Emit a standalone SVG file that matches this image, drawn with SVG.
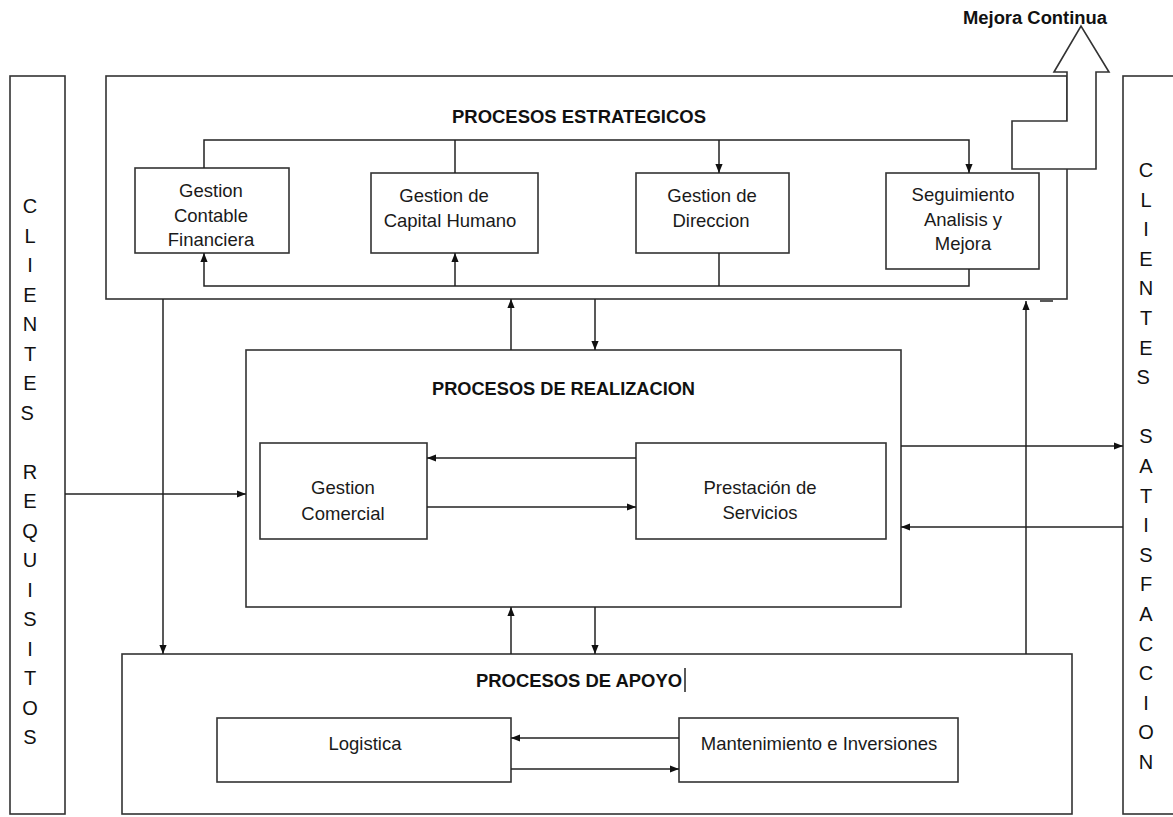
<svg xmlns="http://www.w3.org/2000/svg" width="1173" height="817" viewBox="0 0 1173 817">
  <defs>
    <marker id="ah" viewBox="0 0 10 8" refX="10" refY="4" markerWidth="9" markerHeight="8" markerUnits="userSpaceOnUse" orient="auto">
      <path d="M0,0 L10,4 L0,8 z" fill="#111"/>
    </marker>
  </defs>
  <style>
    .box{fill:none;stroke:#333;stroke-width:1.6}
    .wbox{fill:#fff;stroke:#333;stroke-width:1.6}
    .ln{fill:none;stroke:#222;stroke-width:1.5}
    .arr{fill:none;stroke:#222;stroke-width:1.5;marker-end:url(#ah)}
    .t{font-family:"Liberation Sans",Arial,sans-serif;font-size:18.5px;fill:#1a1a1a;text-anchor:middle}
    .h{font-family:"Liberation Sans",Arial,sans-serif;font-size:18px;font-weight:bold;fill:#111;text-anchor:middle}
    .col{font-family:"Liberation Sans",Arial,sans-serif;font-size:20px;fill:#111;text-anchor:middle}
  </style>
  <rect width="1173" height="817" fill="#fff"/>

  <!-- side columns -->
  <g id="clientes-requisitos">
    <rect class="box" x="10" y="76" width="55" height="738"/>
    <text class="col">
      <tspan x="30" y="213">C</tspan><tspan x="30" y="242.5">L</tspan><tspan x="30" y="272">I</tspan><tspan x="30" y="301.5">E</tspan><tspan x="30" y="331">N</tspan><tspan x="30" y="360.5">T</tspan><tspan x="30" y="390">E</tspan><tspan x="30" y="419.5">S</tspan>
      <tspan x="30" y="478.5">R</tspan><tspan x="30" y="508">E</tspan><tspan x="30" y="537.5">Q</tspan><tspan x="30" y="567">U</tspan><tspan x="30" y="596.5">I</tspan><tspan x="30" y="626">S</tspan><tspan x="30" y="655.5">I</tspan><tspan x="30" y="685">T</tspan><tspan x="30" y="714.5">O</tspan><tspan x="30" y="744">S</tspan>
    </text>
  </g>
  <g id="clientes-satisfaccion">
    <rect class="box" x="1123" y="76" width="70" height="738"/>
    <text class="col">
      <tspan x="1146" y="177">C</tspan><tspan x="1146" y="206.6">L</tspan><tspan x="1146" y="236.2">I</tspan><tspan x="1146" y="265.8">E</tspan><tspan x="1146" y="295.4">N</tspan><tspan x="1146" y="325">T</tspan><tspan x="1146" y="354.6">E</tspan><tspan x="1146" y="384.2">S</tspan>
      <tspan x="1146" y="443.4">S</tspan><tspan x="1146" y="473">A</tspan><tspan x="1146" y="502.6">T</tspan><tspan x="1146" y="532.2">I</tspan><tspan x="1146" y="561.8">S</tspan><tspan x="1146" y="591.4">F</tspan><tspan x="1146" y="621">A</tspan><tspan x="1146" y="650.6">C</tspan><tspan x="1146" y="680.2">C</tspan><tspan x="1146" y="709.8">I</tspan><tspan x="1146" y="739.4">O</tspan><tspan x="1146" y="769">N</tspan>
    </text>
  </g>

  <!-- strategic processes -->
  <g id="procesos-estrategicos">
    <rect class="box" x="106" y="76" width="961" height="223"/>
    <text class="h" x="579" y="123" textLength="254" lengthAdjust="spacingAndGlyphs">PROCESOS ESTRATEGICOS</text>
    <line class="ln" x1="1040" y1="301" x2="1053" y2="301"/>
  </g>
  <g id="mejora-continua">
    <polygon class="wbox" stroke="#555" points="1054,72 1081,26 1109,72 1096,72 1096,169 1012,169 1012,121 1067,121 1067,72"/>
    <text class="h" font-size="16" x="1035" y="24" textLength="144" lengthAdjust="spacingAndGlyphs">Mejora Continua</text>
  </g>
  <g id="gestion-contable">
    <rect class="box" x="135" y="168" width="154" height="85"/>
    <text class="t"><tspan x="211" y="197">Gestion</tspan><tspan x="211" y="222">Contable</tspan><tspan x="211" y="246">Financiera</tspan></text>
  </g>
  <g id="gestion-capital-humano">
    <rect class="box" x="371" y="173" width="167" height="80"/>
    <text class="t"><tspan x="444" y="202">Gestion de</tspan><tspan x="450" y="227">Capital Humano</tspan></text>
  </g>
  <g id="gestion-direccion">
    <rect class="box" x="636" y="173" width="153" height="80"/>
    <text class="t"><tspan x="712" y="202">Gestion de</tspan><tspan x="711" y="227">Direccion</tspan></text>
  </g>
  <g id="seguimiento">
    <rect class="box" x="886" y="173" width="153" height="96"/>
    <text class="t"><tspan x="963" y="201">Seguimiento</tspan><tspan x="963" y="226">Analisis y</tspan><tspan x="963" y="250">Mejora</tspan></text>
  </g>

  <!-- realization processes -->
  <g id="procesos-realizacion">
    <rect class="box" x="246" y="350" width="655" height="257"/>
    <text class="h" x="563.5" y="395" textLength="263" lengthAdjust="spacingAndGlyphs">PROCESOS DE REALIZACION</text>
  </g>
  <g id="gestion-comercial">
    <rect class="box" x="260" y="443" width="167" height="96"/>
    <text class="t"><tspan x="343" y="494">Gestion</tspan><tspan x="343" y="520">Comercial</tspan></text>
  </g>
  <g id="prestacion-servicios">
    <rect class="box" x="636" y="443" width="250" height="96"/>
    <text class="t"><tspan x="760" y="494">Prestación de</tspan><tspan x="760" y="519">Servicios</tspan></text>
  </g>

  <!-- support processes -->
  <g id="procesos-apoyo">
    <rect class="box" x="122" y="654" width="950" height="160"/>
    <text class="h" x="579" y="687" textLength="206" lengthAdjust="spacingAndGlyphs">PROCESOS DE APOYO</text>
    <line class="ln" x1="685" y1="668" x2="685" y2="692"/>
  </g>
  <g id="logistica">
    <rect class="box" x="217" y="718" width="294" height="64"/>
    <text class="t" x="365" y="750">Logistica</text>
  </g>
  <g id="mantenimiento">
    <rect class="box" x="679" y="718" width="279" height="64"/>
    <text class="t" x="819" y="750">Mantenimiento e Inversiones</text>
  </g>

  <!-- connectors -->
  <g id="connectors">
    <!-- strategic distribution lines -->
    <path class="arr" d="M204,168 V140 H969 V173"/>
    <path class="ln" d="M455,140 V173"/>
    <path class="arr" d="M719,140 V173"/>
    <path class="arr" d="M969,269 V286 H204 V253"/>
    <path class="arr" d="M455,286 V253"/>
    <path class="ln" d="M719,253 V286"/>
    <!-- between levels -->
    <path class="arr" d="M163,299 V654"/>
    <path class="arr" d="M511,350 V299"/>
    <path class="arr" d="M595,299 V350"/>
    <path class="arr" d="M511,654 V607"/>
    <path class="arr" d="M595,607 V654"/>
    <path class="arr" d="M1026,654 V301"/>
    <!-- customers -->
    <path class="arr" d="M65,494 H246"/>
    <path class="arr" d="M901,446 H1123"/>
    <path class="arr" d="M1123,527 H901"/>
    <!-- inside realization -->
    <path class="arr" d="M636,458 H427"/>
    <path class="arr" d="M427,507 H636"/>
    <!-- inside support -->
    <path class="arr" d="M679,738 H511"/>
    <path class="arr" d="M511,769 H679"/>
  </g>
</svg>
